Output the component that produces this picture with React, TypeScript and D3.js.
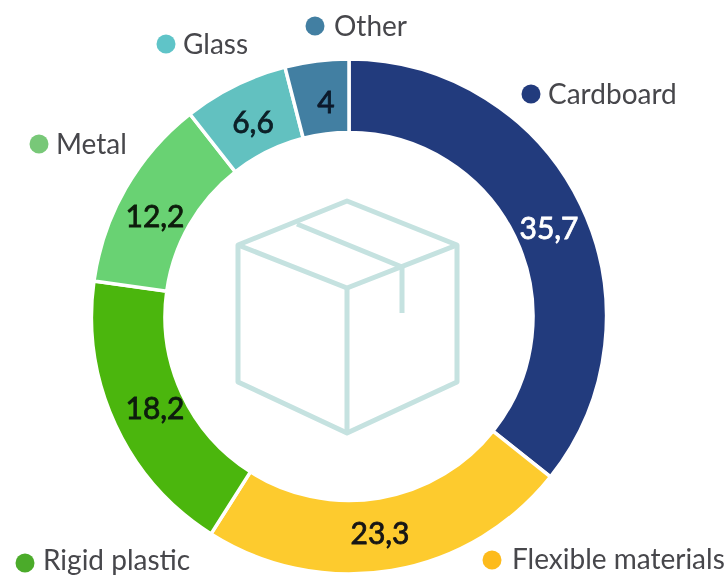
import React from "react";
import * as d3 from "d3";

const categories = ["Cardboard", "Flexible materials", "Rigid plastic", "Metal", "Glass", "Other"];
const values = [35.7, 23.3, 18.2, 12.2, 6.6, 4];
const valueLabels = ["35,7", "23,3", "18,2", "12,2", "6,6", "4"];
const colors = ["#233a7d", "#fdcb2e", "#4cb60a", "#69d273", "#62c1c0", "#437fa2"];
const labelColors = ["#ffffff", "#141414", "#0c1c08", "#0c1c08", "#0a2028", "#0a1a2a"];
const legendDot = ["#233a7d", "#fdbb1e", "#4cab2c", "#78c878", "#5fc4c8", "#437fa2"];
const legendDotPos: [number, number][] = [[531, 94], [492, 560], [25, 563], [39, 144], [166, 44], [315, 26]];
const legendTextPos: [number, number][] = [[548, 104], [512, 569], [43, 570], [56, 154], [183, 54], [334, 36]];
const valueLabelPos: [number, number][] = [[549, 228], [380, 533], [155, 408], [155, 216], [253, 122], [326, 102]];

const W = 726, H = 576, cx = 349, cy = 316.5, R = 257.5, r = 184;

const boxOutline: [number, number][] = [[347, 201], [457, 245], [457, 382], [347, 433], [238, 382], [238, 245]];
const boxEdges: [number, number][][] = [
  [[238, 245], [347, 288], [457, 245]],
  [[347, 288], [347, 433]],
  [[297, 224], [402, 267], [402, 313]],
];

export default function App() {
  const pie = d3.pie<number>().sort(null).startAngle(0).endAngle(2 * Math.PI)(values);
  const arc = d3.arc<d3.PieArcDatum<number>>().innerRadius(r).outerRadius(R);
  const line = d3.line();
  const font = "Lato, 'Open Sans', sans-serif";
  return (
    <svg width={W} height={H} viewBox={`0 0 ${W} ${H}`} style={{ position: "absolute", left: 0, top: 0, background: "#fff" }} fontFamily={font}>
      <defs>
        <filter id="soft" x="-5%" y="-5%" width="110%" height="110%">
          <feGaussianBlur stdDeviation="0.6" />
        </filter>
      </defs>
      <g filter="url(#soft)">
        <g transform={`translate(${cx},${cy})`}>
          {pie.map((d, i) => (
            <path key={categories[i]} d={arc(d) ?? ""} fill={colors[i]} stroke="#fff" strokeWidth={3.5} />
          ))}
        </g>
        <g fill="none" stroke="#c5e2e0" strokeWidth={5} strokeLinejoin="round">
          <path d={(line(boxOutline) ?? "") + "Z"} />
          {boxEdges.map((e, i) => <path key={i} d={line(e) ?? ""} />)}
        </g>
        {categories.map((c, i) => (
          <g key={c}>
            <circle cx={legendDotPos[i][0]} cy={legendDotPos[i][1]} r={9.5} fill={legendDot[i]} />
            <text x={legendTextPos[i][0]} y={legendTextPos[i][1]} fontSize={28} fill="#46464b">{c}</text>
          </g>
        ))}
        {valueLabels.map((t, i) => (
          <text key={i} x={valueLabelPos[i][0]} y={valueLabelPos[i][1] + 11} textAnchor="middle" fontSize={30} fontWeight={400} fill={labelColors[i]} stroke={labelColors[i]} strokeWidth={0.8}>{t}</text>
        ))}
      </g>
    </svg>
  );
}
